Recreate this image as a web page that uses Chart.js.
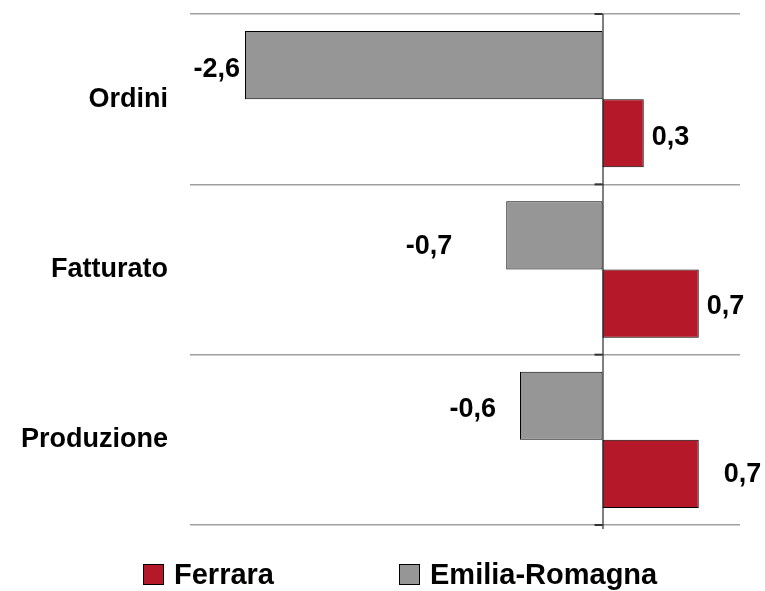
<!DOCTYPE html>
<html>
<head>
<meta charset="utf-8">
<script src="https://cdn.jsdelivr.net/npm/chart.js@4"></script>
<style>
    html, body { margin: 0; padding: 0; background: #fff; }
    #wrap { width: 765px; height: 591px; }
</style>
</head>
<body>
<div id="wrap"><canvas id="myBarChart" width="765" height="591"></canvas></div>
<script>
const categories = ['Ordini', 'Fatturato', 'Produzione'];
const emilia_values = [-2.6, -0.7, -0.6];
const ferrara_values = [0.3, 0.7, 0.7];
const series_names = ['Emilia-Romagna', 'Ferrara'];

const FONT = "'Liberation Sans', Arial, sans-serif";

// label nudges (px) so the numbers sit like in the original
const label_gap = [[5, 54, 24], [8, 8, 25]];
const label_dy = [[4, 11, 4], [4, 3, 1]];

const labelsPlugin = {
    id: 'barLabels',
    afterDatasetsDraw(chart) {
        const ctx = chart.ctx;
        ctx.save();
        ctx.font = 'bold 27px ' + FONT;
        ctx.fillStyle = '#000';
        ctx.textBaseline = 'middle';
        chart.data.datasets.forEach((ds, di) => {
            chart.getDatasetMeta(di).data.forEach((bar, i) => {
                let v = ds.data[i];
                let txt = v.toFixed(1).replace('.', ',');
                if (v < 0) {
                    ctx.textAlign = 'right';
                    ctx.fillText(txt, bar.x - label_gap[di][i], bar.y + label_dy[di][i]);
                } else {
                    ctx.textAlign = 'left';
                    ctx.fillText(txt, bar.x + label_gap[di][i], bar.y + label_dy[di][i]);
                }
            });
        });
        ctx.restore();
    }
};

const axisPlugin = {
    id: 'zeroAxis',
    afterDatasetsDraw(chart) {
        const ctx = chart.ctx;
        const x0 = chart.scales.x.getPixelForValue(0);
        const area = chart.chartArea;
        const y = chart.scales.y;
        const step = y.getPixelForValue(1) - y.getPixelForValue(0);
        ctx.save();
        ctx.strokeStyle = '#000';
        ctx.lineWidth = 1;
        ctx.beginPath();
        ctx.moveTo(x0 + 0.5, area.top);
        ctx.lineTo(x0 + 0.5, area.bottom + 4);
        ctx.stroke();
        ctx.lineWidth = 2;
        ctx.strokeStyle = '#333';
        for (let i = 0; i <= categories.length; i++) {
            let yy = y.getPixelForValue(0) - step / 2 + i * step;
            ctx.beginPath();
            ctx.moveTo(x0 - 8, yy);
            ctx.lineTo(x0, yy);
            ctx.stroke();
        }
        ctx.restore();
    }
};

const legendPlugin = {
    id: 'bottomLegend',
    afterDraw(chart) {
        const ctx = chart.ctx;
        const items = [[1, 143], [0, 399]];
        ctx.save();
        ctx.font = 'bold 29px ' + FONT;
        ctx.textBaseline = 'middle';
        ctx.textAlign = 'left';
        items.forEach(([di, x]) => {
            const ds = chart.data.datasets[di];
            ctx.fillStyle = ds.backgroundColor;
            ctx.fillRect(x, 564, 20, 21);
            ctx.strokeStyle = '#000';
            ctx.lineWidth = 1;
            ctx.strokeRect(x + 0.5, 564.5, 20, 20);
            ctx.fillStyle = '#000';
            ctx.fillText(ds.label, x + 31, 576);
        });
        ctx.restore();
    }
};

window.onload = () => {
    bar_graph();
}

function bar_graph() {
    const ctx = document.getElementById('myBarChart').getContext('2d');

    window.myBarChart = new Chart(ctx, {
        type: 'bar',
        data: {
            labels: categories,
            datasets: [{
                label: series_names[0],
                data: emilia_values,
                backgroundColor: '#969696',
                borderColor: '#000',
                borderWidth: 1,
                borderSkipped: false
            }, {
                label: series_names[1],
                data: ferrara_values,
                backgroundColor: '#b51828',
                borderColor: '#000',
                borderWidth: 1,
                borderSkipped: false
            }]
        },
        plugins: [axisPlugin, labelsPlugin, legendPlugin],
        options: {
            indexAxis: 'y',
            responsive: false,
            animation: false,
            layout: {
                padding: { left: 0, right: 25, top: 14, bottom: 66 }
            },
            datasets: {
                bar: {
                    categoryPercentage: 0.8,
                    barPercentage: 1
                }
            },
            plugins: {
                legend: { display: false },
                tooltip: { enabled: false }
            },
            scales: {
                x: {
                    display: false,
                    min: -3,
                    max: 1
                },
                y: {
                    afterFit: (scale) => {
                        scale.width = 190;
                        scale.paddingTop = 0;
                        scale.paddingBottom = 0;
                    },
                    border: { display: false },
                    grid: {
                        offset: true,
                        drawTicks: false,
                        color: '#a0a0a0',
                        lineWidth: 1.5
                    },
                    ticks: {
                        padding: 22,
                        color: '#000',
                        font: { family: FONT, size: 27, weight: 'bold' }
                    }
                }
            }
        }
    });
}
</script>
</body>
</html>
